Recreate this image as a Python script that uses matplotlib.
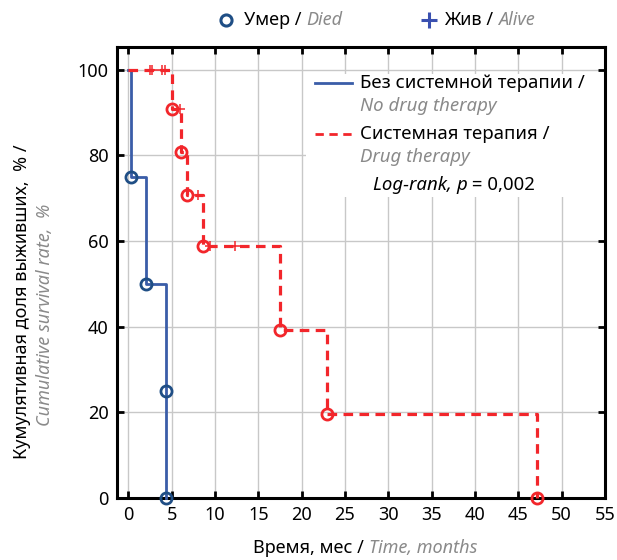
import matplotlib
matplotlib.use("Agg")
import matplotlib.pyplot as plt
from matplotlib.patches import Rectangle
from matplotlib.lines import Line2D

plt.rcParams['font.family'] = ['Noto Sans', 'DejaVu Sans']

# Data
no_drug_times = [0, 0.35, 2.0, 4.4, 4.4]
no_drug_surv = [100, 75, 50, 25, 0]
drug_times = [0, 5.0, 6.1, 6.8, 8.6, 17.45, 22.95, 47.2]
drug_surv = [100, 90.9, 80.8, 70.7, 58.9, 39.3, 19.6, 0]
drug_cens_times = [2.46, 2.72, 3.87, 4.27, 6.0, 8.0, 9.4, 12.3]
drug_cens_surv = [100, 100, 100, 100, 90.9, 70.7, 58.9, 58.9]
xticks = [0, 5, 10, 15, 20, 25, 30, 35, 40, 45, 50, 55]
yticks = [0, 20, 40, 60, 80, 100]

BLUE = '#3a5da8'
NAVY = '#1f4e85'
RED = '#f2262b'
GREY = '#8a8a8a'

W, H = 617, 560
fig = plt.figure(figsize=(W / 100, H / 100), dpi=100)
L, R, T, B = 117, 605, 47, 498
ax = fig.add_axes([L / W, 1 - B / H, (R - L) / W, (B - T) / H])

ax.set_xlim(-1.3, 55)
ax.set_ylim(0, 105.3)
ax.set_xticks(xticks)
ax.set_yticks(yticks)
ax.grid(True, color='#c8c8c8', linewidth=1.0)
ax.set_axisbelow(True)
for s in ax.spines.values():
    s.set_linewidth(2.2)
ax.tick_params(direction='in', length=5, width=2, top=True, right=True,
               labelsize=13, pad=6)

# curves
ax.step(no_drug_times, no_drug_surv, where='post', color=BLUE, lw=2.0, zorder=3, clip_on=False)
ax.plot(no_drug_times[1:], no_drug_surv[1:], 'o', ms=8, mfc='none', mec=NAVY, mew=2.0,
        zorder=4, clip_on=False)
ax.step(drug_times, drug_surv, where='post', color=RED, lw=2.3, ls=(0, (3, 2)), zorder=3, clip_on=False)
ax.plot(drug_times[1:], drug_surv[1:], 'o', ms=8, mfc='none', mec=RED, mew=2.0,
        zorder=4, clip_on=False)
ax.plot(drug_cens_times, drug_cens_surv, '+', ms=7, mec=RED, mew=1.1, zorder=4)

# legend box
def af(px, py):
    return ((px - L) / (R - L), (B - py) / (B - T))

x0, y0 = af(306, 197)
x1, y1 = af(R, 74)
ax.add_patch(Rectangle((x0, y0), x1 - x0, y1 - y0, transform=ax.transAxes,
                       facecolor='white', edgecolor='none', zorder=1.5))
fs = 13
lfs = 13.4
for (py, col, ls, t1, t2) in [(83, BLUE, '-', 'Без системной терапии /', 'No drug therapy'),
                              (134, RED, (0, (3, 2)), 'Системная терапия /', 'Drug therapy')]:
    xa, ya = af(315, py)
    xb, _ = af(352, py)
    ax.add_line(Line2D([xa, xb], [ya, ya], transform=ax.transAxes, color=col, lw=2.0, ls=ls, zorder=5))
    xt, _ = af(360, py)
    ax.text(xt, ya, t1, transform=ax.transAxes, fontsize=lfs, va='center', ha='left', zorder=6)
    _, yb = af(360, py + 23)
    ax.text(xt, yb, t2, transform=ax.transAxes, fontsize=lfs, va='center', ha='left',
            style='italic', color=GREY, zorder=6)

fig.canvas.draw()
renderer = fig.canvas.get_renderer()

black = dict(color='black')
ital = dict(color=GREY, style='italic')
bital = dict(color='black', style='italic')

def left_mixed(x, y, parts, size=fs):
    pos = x
    for s, st in parts:
        t = fig.text(pos / W, 1 - y / H, s, fontsize=size, ha='left', va='center', **st)
        pos += t.get_window_extent(renderer).width
    return pos

def center_mixed(x, y, parts, size=fs):
    total = 0
    tmp = []
    for s, st in parts:
        t = fig.text(0, 0, s, fontsize=size, **st)
        total += t.get_window_extent(renderer).width
        tmp.append(t)
    for t in tmp:
        t.remove()
    left_mixed(x - total / 2, y, parts, size)

left_mixed(373, 185, [('Log-rank, ', bital), ('p', bital), (' = 0,002', black)], size=lfs)
center_mixed(365, 548, [('Время, мес / ', black), ('Time, months', ital)])

fig.text(22 / W, 1 - 302 / H, 'Кумулятивная доля выживших,  % /', rotation=90,
         fontsize=fs, ha='center', va='center')
fig.text(45 / W, 1 - 315 / H, 'Cumulative survival rate,  %', rotation=90,
         fontsize=fs, ha='center', va='center', color=GREY, style='italic')

# top legend
fig.lines.append(Line2D([226 / W], [1 - 20 / H], marker='o', ms=8, mfc='none', mec=NAVY, mew=2.2,
                        transform=fig.transFigure))
fig.lines.append(Line2D([429 / W], [1 - 20 / H], marker='+', ms=11, mec='#3a50b0', mew=2.2,
                        transform=fig.transFigure))
left_mixed(244, 20, [('Умер / ', black), ('Died', ital)])
left_mixed(444, 20, [('Жив / ', black), ('Alive', ital)])

fig.savefig('out.png', dpi=100)
